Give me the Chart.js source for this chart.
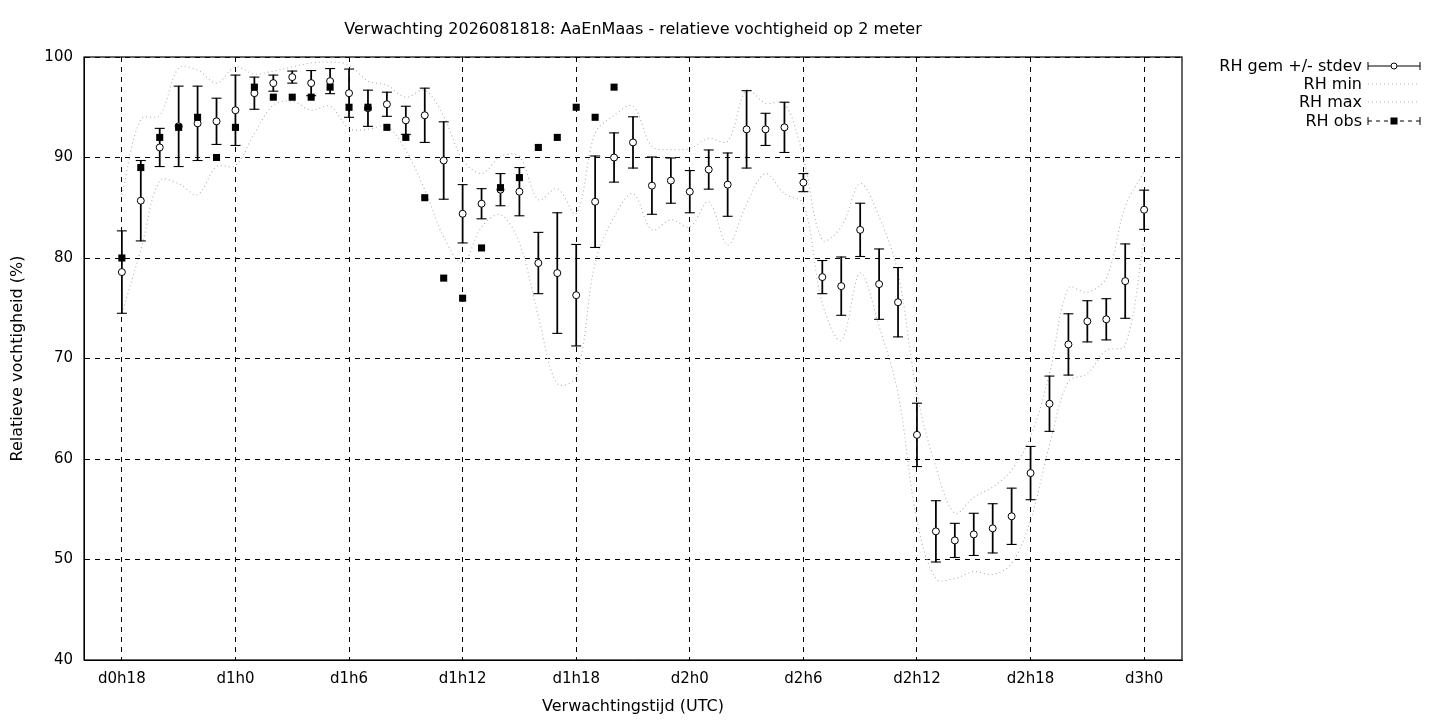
<!DOCTYPE html>
<html><head><meta charset="utf-8">
<script src="https://cdn.jsdelivr.net/npm/chart.js@4"></script>
<style>html,body{margin:0;padding:0;background:#fff}canvas{display:block}</style>
</head><body>
<canvas id="c" width="1440" height="720"></canvas>
<script>
// ---- data (forecast hour since run start) ----
const hours = [18,19,20,21,22,23,24,25,26,27,28,29,30,31,32,33,34,35,36,37,38,39,40,41,42,43,44,45,
  46,47,48,49,50,51,52,53,54,55,56,57,58,59,60,61,62,63,64,65,66,67,68,69,70,71,72];
const rhMean = [78.6,85.7,91.0,93.1,93.4,93.6,94.7,96.4,97.4,98.0,97.4,97.6,96.4,94.9,95.3,93.7,94.2,89.7,84.4,85.4,86.8,86.6,79.5,78.5,76.3,85.6,90.0,91.5,
  87.2,87.7,86.6,88.8,87.3,92.8,92.8,93.0,87.5,78.1,77.2,82.8,77.4,75.6,62.4,52.8,51.9,52.5,53.1,54.3,58.6,65.5,71.4,73.7,73.9,77.7,84.8];
const rhStdev = [4.1,4.0,1.9,4.0,3.7,2.3,3.5,1.6,0.8,0.6,1.25,1.25,2.4,1.8,1.2,1.4,2.7,3.85,2.9,1.5,1.6,2.4,3.05,6.0,5.05,4.55,2.45,2.55,
  2.85,2.25,2.1,1.95,3.15,3.85,1.6,2.5,0.9,1.65,2.9,2.65,3.5,3.45,3.15,3.05,1.7,2.1,2.45,2.8,2.65,2.75,3.05,2.05,2.05,3.7,1.95];
const rhMin = [74.5,80.8,87.7,87.4,86.3,89.1,89.2,92.4,95.2,95.6,94.7,95.1,92.9,92.8,93.1,90.7,86.8,82.1,79.5,83.1,84.3,81.5,74.2,67.5,68.2,79.5,84.1,86.4,
  82.8,83.8,83.1,85.6,81.3,85.4,88.4,86.4,85.4,75.5,71.8,78.5,73.2,66.5,53.9,48.1,48.1,48.8,48.5,49.6,53.9,61.4,67.7,68.5,70.8,71.3,81.8];
const rhMax = [86.3,93.8,94.2,98.9,98.7,97.4,99.0,98.3,98.6,99.0,99.4,99.5,99.2,97.6,97.2,96.0,96.7,94.1,89.8,88.4,90.1,90.1,85.8,86.9,84.4,92.4,94.2,95.1,
  91.1,90.8,90.9,91.9,91.6,96.7,95.4,95.4,90.0,81.8,83.1,87.4,84.1,78.5,66.5,59.2,54.6,56.2,57.2,58.9,62.2,68.5,77.0,76.6,78.0,85.1,88.6];
const obsHours = [18,19,20,21,22,23,24,25,26,27,28,29,30,31,32,33,34,35,36,37,38,39,40,41,42,43,44];
const rhObs = [80,89,92,93,94,90,93,97,96,96,96,97,95,95,93,92,86,78,76,81,87,88,91,92,95,94,97];
const xTickHours = [18,24,30,36,42,48,54,60,66,72];
const titleText = 'Verwachting 2026081818: AaEnMaas - relatieve vochtigheid op 2 meter';
const xTitle = 'Verwachtingstijd (UTC)';
const yTitle = 'Relatieve vochtigheid (%)';
const legendLabels = ['RH gem +/- stdev','RH min','RH max','RH obs'];

// ---- derived structures for the library ----
const pts = (xs, ys) => xs.map((x, i) => ({x, y: ys[i]}));
const errBars = hours.map((h, i) => ({x: h, y: [rhMean[i] - rhStdev[i], rhMean[i] + rhStdev[i]]}));
const errCaps = hours.flatMap((h, i) => [{x: h, y: rhMean[i] - rhStdev[i]}, {x: h, y: rhMean[i] + rhStdev[i]}]);
const hourLabel = v => 'd' + Math.floor(v / 24) + 'h' + (v % 24);

Chart.defaults.font.family = 'DejaVu Sans';
Chart.defaults.font.size = 15;
Chart.defaults.color = '#000';

const framePlugin = {
  id: 'frame',
  afterDatasetsDraw(chart) {
    const {ctx, chartArea: a} = chart;
    ctx.save();
    ctx.strokeStyle = '#000'; ctx.lineWidth = 1.2;
    ctx.strokeRect(a.left, a.top, a.right - a.left, a.bottom - a.top);
    ctx.restore();
  }
};

const legendPlugin = {
  id: 'gpLegend',
  afterDraw(chart) {
    const {ctx, chartArea: a} = chart;
    const xr = a.right + 180, x0 = a.right + 186, x1 = a.right + 238, xm = (x0 + x1) / 2;
    const rows = [a.top + 9, a.top + 27, a.top + 45, a.top + 64];
    ctx.save();
    ctx.font = '16px "DejaVu Sans"';
    ctx.fillStyle = '#000'; ctx.textAlign = 'right'; ctx.textBaseline = 'middle';
    legendLabels.forEach((t, i) => ctx.fillText(t, xr, rows[i] + 1));
    // row 1: error-bar sample
    let y = rows[0];
    ctx.strokeStyle = '#000'; ctx.lineWidth = 1;
    ctx.beginPath();
    ctx.moveTo(x0, y); ctx.lineTo(x1, y);
    ctx.moveTo(x0, y - 4); ctx.lineTo(x0, y + 4);
    ctx.moveTo(x1, y - 4); ctx.lineTo(x1, y + 4);
    ctx.stroke();
    ctx.beginPath(); ctx.arc(xm, y, 3, 0, Math.PI * 2);
    ctx.fillStyle = '#fff'; ctx.fill(); ctx.lineWidth = 1; ctx.stroke();
    // rows 2,3: dotted grey
    ctx.strokeStyle = '#b0b0b0'; ctx.lineWidth = 1; ctx.setLineDash([1, 3]);
    [rows[1], rows[2]].forEach(yy => { ctx.beginPath(); ctx.moveTo(x0, yy); ctx.lineTo(x1, yy); ctx.stroke(); });
    // row 4: obs sample
    y = rows[3];
    ctx.strokeStyle = '#000'; ctx.lineWidth = 1; ctx.setLineDash([4, 4]);
    ctx.beginPath(); ctx.moveTo(x0, y); ctx.lineTo(x1, y); ctx.stroke();
    ctx.setLineDash([]);
    ctx.beginPath();
    ctx.moveTo(x0, y - 4); ctx.lineTo(x0, y + 4);
    ctx.moveTo(x1, y - 4); ctx.lineTo(x1, y + 4);
    ctx.stroke();
    ctx.fillStyle = '#000'; ctx.fillRect(xm - 3.5, y - 3.5, 7, 7);
    ctx.restore();
  }
};

new Chart(document.getElementById('c'), {
  type: 'line',
  data: {
    datasets: [
      { label: 'RH obs', data: pts(obsHours, rhObs), showLine: false, pointStyle: 'rect',
        pointRadius: 5, pointBackgroundColor: '#000', pointBorderWidth: 0, order: 0 },
      { label: 'RH gem', data: pts(hours, rhMean), showLine: false, pointStyle: 'circle',
        pointRadius: 3.5, pointBackgroundColor: '#fff', pointBorderColor: '#000', pointBorderWidth: 1, order: 1 },
      { label: 'caps', data: errCaps, showLine: false, pointStyle: 'line',
        pointRadius: 5, pointBorderColor: '#000', pointBorderWidth: 1.1, order: 2 },
      { type: 'bar', label: 'stdev', data: errBars, barThickness: 1.1, backgroundColor: '#000',
        borderWidth: 0, borderSkipped: false, order: 3 },
      { label: 'RH min', data: pts(hours, rhMin), borderColor: '#b0b0b0', borderWidth: 1.1,
        borderDash: [1, 3], pointRadius: 0, tension: 0.35, fill: false, order: 4 },
      { label: 'RH max', data: pts(hours, rhMax), borderColor: '#b0b0b0', borderWidth: 1.1,
        borderDash: [1, 3], pointRadius: 0, tension: 0.35, fill: false, order: 4 }
    ]
  },
  options: {
    responsive: false, animation: false, devicePixelRatio: 1,
    layout: { padding: { left: 0, right: 258, top: 0, bottom: 0 } },
    plugins: {
      legend: { display: false }, tooltip: { enabled: false },
      title: { display: true, text: titleText, fullSize: false, color: '#000',
        font: { size: 16, weight: 'normal' }, padding: { top: 20, bottom: 17.8 } }
    },
    scales: {
      x: {
        type: 'linear', min: 16, max: 74, offset: false,
        afterBuildTicks: s => { s.ticks = xTickHours.map(v => ({value: v})); },
        afterFit: s => { s.height = 60; },
        ticks: { callback: v => hourLabel(v), padding: 10, maxRotation: 0, autoSkip: false, color: '#000' },
        grid: { color: '#000', lineWidth: 1, drawTicks: false, offset: false },
        border: { display: true, color: '#000', width: 1, dash: [5, 5] },
        title: { display: true, text: xTitle, color: '#000', font: { size: 16 }, padding: { top: 0, bottom: 4 } }
      },
      y: {
        type: 'linear', min: 40, max: 100,
        afterFit: s => { s.width = 84; },
        ticks: { stepSize: 10, padding: 11, color: '#000' },
        grid: { color: '#000', lineWidth: 1, drawTicks: false, offset: false },
        border: { display: true, color: '#000', width: 1, dash: [5, 5] },
        title: { display: true, text: yTitle, color: '#000', font: { size: 16 }, padding: { top: 8, bottom: 0 } }
      }
    }
  },
  plugins: [framePlugin, legendPlugin]
});
</script>
</body></html>
